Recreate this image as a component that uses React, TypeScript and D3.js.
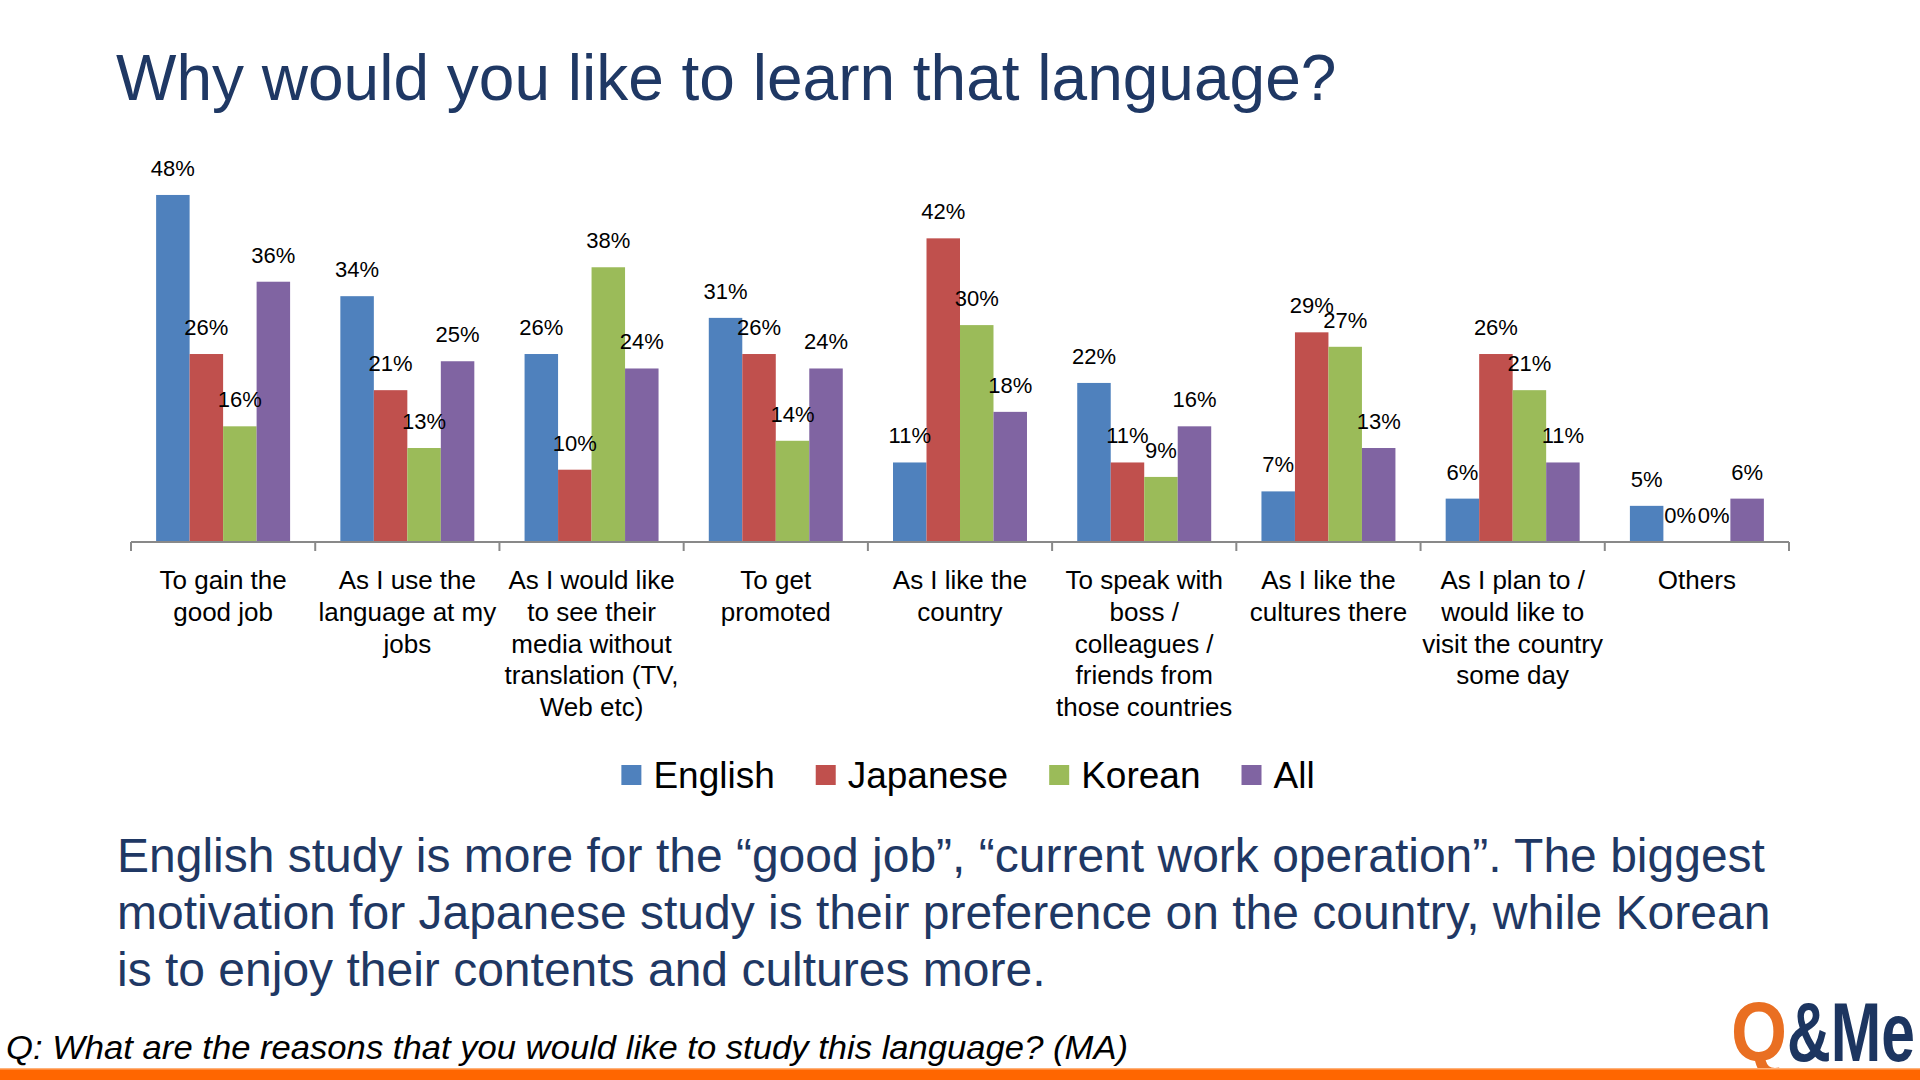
import * as d3 from "d3";

const categories = [
  "To gain the good job",
  "As I use the language at my jobs",
  "As I would like to see their media without translation (TV, Web etc)",
  "To get promoted",
  "As I like the country",
  "To speak with boss / colleagues / friends from those countries",
  "As I like the cultures there",
  "As I plan to / would like to visit the country some day",
  "Others",
];

// wrapped the way the original chart breaks them
const categoryLines = [
  ["To gain the", "good job"],
  ["As I use the", "language at my", "jobs"],
  ["As I would like", "to see their", "media without", "translation (TV,", "Web etc)"],
  ["To get", "promoted"],
  ["As I like the", "country"],
  ["To speak with", "boss /", "colleagues /", "friends from", "those countries"],
  ["As I like the", "cultures there"],
  ["As I plan to /", "would like to", "visit the country", "some day"],
  ["Others"],
];

const seriesNames = ["English", "Japanese", "Korean", "All"];
const english = [48, 34, 26, 31, 11, 22, 7, 6, 5];
const japanese = [26, 21, 10, 26, 42, 11, 29, 26, 0];
const korean = [16, 13, 38, 14, 30, 9, 27, 21, 0];
const all = [36, 25, 24, 24, 18, 16, 13, 11, 6];
const seriesValues = [english, japanese, korean, all];
const colors = ["#4F81BD", "#C0504D", "#9BBB59", "#8064A2"];

const title = "Why would you like to learn that language?";
const bodyLines = [
  "English study is more for the \u201Cgood job\u201D, \u201Ccurrent work operation\u201D. The biggest",
  "motivation for Japanese study is their preference on the country, while Korean",
  "is to enjoy their contents and cultures more.",
];
const question = "Q: What are the reasons that you would like to study this language? (MA)";

const FONT = "'Liberation Sans', Arial, Helvetica, sans-serif";
const NAVY = "#1F3864";

function textWidth(txt: string, size: number) {
  const c = document.createElement("canvas").getContext("2d")!;
  c.font = `${size}px ${FONT}`;
  return c.measureText(txt).width;
}

export default function App() {
  const W = 1920;
  const H = 1080;

  const x0 = d3.scaleBand<string>().domain(categories).range([131, 1789]).paddingInner(0).paddingOuter(0);
  const x1 = d3.scaleBand<string>().domain(seriesNames).range([0, x0.bandwidth()]).paddingInner(0).paddingOuter(0.75);
  const y = d3.scaleLinear().domain([0, 50]).range([542, 180.5]);

  const baseY = y(0);
  const ticks = [...categories.map((c) => x0(c)!), x0.range()[1]];

  // legend layout
  const legendFont = 37;
  const sq = 20;
  const itemWidths = seriesNames.map((s) => sq + 12 + textWidth(s, legendFont));
  const legendTotal = d3.sum(itemWidths) + 41 * (seriesNames.length - 1);
  let lx = 968 - legendTotal / 2;
  const legendItems = seriesNames.map((s, i) => {
    const item = { name: s, x: lx, color: colors[i] };
    lx += itemWidths[i] + 41;
    return item;
  });

  return (
    <svg
      width={W}
      height={H}
      viewBox={`0 0 ${W} ${H}`}
      style={{ position: "absolute", left: 0, top: 0, background: "#fff" }}
      fontFamily={FONT}
    >
      <rect width={W} height={H} fill="#fff" />

      <text x={116} y={100} fontSize={64} fill={NAVY}>
        {title}
      </text>

      {/* bars */}
      {categories.map((c, ci) => (
        <g key={c} transform={`translate(${x0(c)},0)`}>
          {seriesNames.map((s, si) => {
            const v = seriesValues[si][ci];
            return (
              <rect
                key={s}
                x={x1(s)!}
                y={y(v)}
                width={x1.bandwidth()}
                height={baseY - y(v)}
                fill={colors[si]}
              />
            );
          })}
          {seriesNames.map((s, si) => {
            const v = seriesValues[si][ci];
            return (
              <text
                key={s}
                x={x1(s)! + x1.bandwidth() / 2}
                y={y(v) - 19}
                fontSize={22}
                textAnchor="middle"
                fill="#000"
              >
                {`${v}%`}
              </text>
            );
          })}
        </g>
      ))}

      {/* axis */}
      <line x1={x0.range()[0]} x2={x0.range()[1]} y1={baseY} y2={baseY} stroke="#898989" strokeWidth={2} />
      {ticks.map((t, i) => (
        <line key={i} x1={t} x2={t} y1={baseY} y2={baseY + 9} stroke="#898989" strokeWidth={2} />
      ))}

      {categories.map((c, ci) => (
        <text key={c} fontSize={26} textAnchor="middle" fill="#000">
          {categoryLines[ci].map((line, li) => (
            <tspan key={li} x={x0(c)! + x0.bandwidth() / 2} y={589 + li * 31.8}>
              {line}
            </tspan>
          ))}
        </text>
      ))}

      {/* legend */}
      {legendItems.map((it) => (
        <g key={it.name}>
          <rect x={it.x} y={765} width={sq} height={sq} fill={it.color} />
          <text x={it.x + sq + 12} y={788} fontSize={legendFont} fill="#000">
            {it.name}
          </text>
        </g>
      ))}

      {/* commentary */}
      {bodyLines.map((l, i) => (
        <text key={i} x={117} y={872 + i * 57} fontSize={48} fill={NAVY}>
          {l}
        </text>
      ))}

      <text
        x={6}
        y={1059}
        fontSize={33}
        fontStyle="italic"
        fill="#000"
        textLength={1122}
        lengthAdjust="spacingAndGlyphs"
      >
        {question}
      </text>

      {/* logo */}
      <text x={1731} y={1061} fontSize={84} fontWeight="bold" fill="#E96F22" textLength={56} lengthAdjust="spacingAndGlyphs">
        Q
      </text>
      <text x={1787} y={1061} fontSize={84} fontWeight="bold" fill="#1C3560" textLength={128} lengthAdjust="spacingAndGlyphs">
        &amp;Me
      </text>

      <rect x={0} y={1068} width={W} height={12} fill="#FF6600" />
      <rect x={0} y={1068} width={W} height={1.5} fill="#FFB27A" />
    </svg>
  );
}
